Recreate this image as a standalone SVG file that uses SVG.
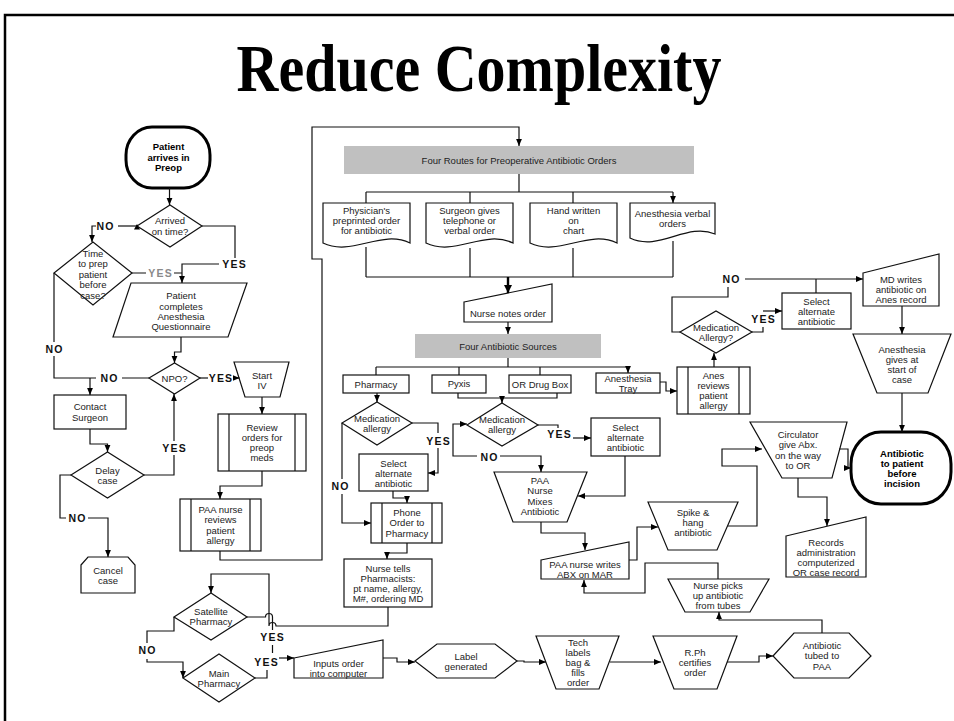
<svg xmlns="http://www.w3.org/2000/svg" width="954" height="721" viewBox="0 0 954 721">
<defs>
<style>
.s{fill:#fff;stroke:#111;stroke-width:1.2}
.g{fill:#c0c0c0;stroke:none}
.term{fill:#fff;stroke:#000;stroke-width:3}
.c{fill:none;stroke:#111;stroke-width:1.2}
.ca{fill:none;stroke:#111;stroke-width:1.2;marker-end:url(#a)}
.ck{fill:none;stroke:#000;stroke-width:2.4;marker-end:url(#b)}
.t{font-family:"Liberation Sans",Arial,sans-serif;font-size:9.5px;fill:#222;text-anchor:middle}
.tb{font-family:"Liberation Sans",Arial,sans-serif;font-size:9.5px;font-weight:bold;fill:#000;text-anchor:middle}
.l{font-family:"Liberation Sans",Arial,sans-serif;font-size:10.5px;font-weight:bold;fill:#111;text-anchor:middle;letter-spacing:1.2px}
.lg{fill:#8a8a8a}
.title{font-family:"Liberation Serif","Times New Roman",serif;font-size:58px;font-weight:bold;text-anchor:middle;fill:#000}
</style>
<marker id="a" markerWidth="8" markerHeight="8" refX="7" refY="3.5" orient="auto" markerUnits="userSpaceOnUse"><path d="M0,0.6 L7,3.5 L0,6.4 z" fill="#000"/></marker>
<marker id="b" markerWidth="10" markerHeight="10" refX="8" refY="4.5" orient="auto" markerUnits="userSpaceOnUse"><path d="M0,0.5 L8,4.5 L0,8.5 z" fill="#000"/></marker>
</defs>
<rect x="0" y="0" width="954" height="721" fill="#fff"/>
<rect x="5" y="15" width="1000" height="800" fill="none" stroke="#000" stroke-width="2.5"/>
<text class="title" transform="translate(479,91) scale(1,1.18)" x="0" y="0">Reduce Complexity</text>

<g id="n-start"><rect class="term" x="126" y="127" width="84" height="61" rx="26" ry="28"/><text class="tb"><tspan x="168.5" y="150">Patient</tspan><tspan x="168.5" y="160.5">arrives in</tspan><tspan x="168.5" y="171">Preop</tspan></text></g>
<g id="n-arrived"><polygon class="s" points="137,226 170,205 202,226 170,247"/><text class="t"><tspan x="170" y="223.5">Arrived</tspan><tspan x="170" y="234.5">on time?</tspan></text></g>
<g id="n-timeprep"><polygon class="s" points="54,273 93,242 132,273 93,305"/><text class="t"><tspan x="93" y="256.5">Time</tspan><tspan x="93" y="266.5">to prep</tspan><tspan x="93" y="277.5">patient</tspan><tspan x="93" y="287.5">before</tspan><tspan x="93" y="298.5">case?</tspan></text></g>
<g id="n-questionnaire"><polygon class="s" points="131,283 247,283 228,337 113,337"/><text class="t"><tspan x="181" y="298.5">Patient</tspan><tspan x="181" y="309.5">completes</tspan><tspan x="181" y="319.5">Anesthesia</tspan><tspan x="181" y="329.5">Questionnaire</tspan></text></g>
<g id="n-npo"><polygon class="s" points="149,378 174.5,363 200,378 174.5,394"/><text class="t"><tspan x="174.5" y="381.5">NPO?</tspan></text></g>
<g id="n-startiv"><polygon class="s" points="234,362 289,362 280,397 245,397"/><text class="t"><tspan x="262" y="378.5">Start</tspan><tspan x="262" y="388.5">IV</tspan></text></g>
<g id="n-review"><rect class="s" x="218" y="414" width="88" height="57"/><path class="c" d="M229,414 V471 M295,414 V471"/><text class="t"><tspan x="262" y="430.5">Review</tspan><tspan x="262" y="440.5">orders for</tspan><tspan x="262" y="450.5">preop</tspan><tspan x="262" y="460.5">meds</tspan></text></g>
<g id="n-contact"><rect class="s" x="54" y="395" width="72" height="34"/><text class="t"><tspan x="90" y="409.5">Contact</tspan><tspan x="90" y="420.5">Surgeon</tspan></text></g>
<g id="n-delay"><polygon class="s" points="71,475 107.5,452 144,475 107.5,498"/><text class="t"><tspan x="107.5" y="473.5">Delay</tspan><tspan x="107.5" y="483.5">case</tspan></text></g>
<g id="n-paareview"><rect class="s" x="180" y="499" width="81" height="52"/><path class="c" d="M191,499 V551 M250,499 V551"/><text class="t"><tspan x="220.5" y="512.5">PAA nurse</tspan><tspan x="220.5" y="522.5">reviews</tspan><tspan x="220.5" y="533.5">patient</tspan><tspan x="220.5" y="543.5">allergy</tspan></text></g>
<g id="n-cancel"><polygon class="s" points="81,565 88,557 128,557 135,565 135,593 81,593"/><text class="t"><tspan x="108" y="573.5">Cancel</tspan><tspan x="108" y="583.5">case</tspan></text></g>

<g id="n-fourroutes"><rect class="g" x="344" y="146" width="350" height="28"/><text class="t" x="519" y="163.5">Four Routes for Preoperative Antibiotic Orders</text></g>
<g id="n-doc1"><path class="s" d="M323,203 H410 V243 C381,229 352,257 323,243 Z"/><text class="t"><tspan x="366.5" y="213.5">Physician's</tspan><tspan x="366.5" y="223.5">preprinted order</tspan><tspan x="366.5" y="233.5">for antibiotic</tspan></text></g>
<g id="n-doc2"><path class="s" d="M426,203 H513 V243 C484,229 455,257 426,243 Z"/><text class="t"><tspan x="469.5" y="213.5">Surgeon gives</tspan><tspan x="469.5" y="223.5">telephone or</tspan><tspan x="469.5" y="233.5">verbal order</tspan></text></g>
<g id="n-doc3"><path class="s" d="M530,203 H617 V243 C588,229 559,257 530,243 Z"/><text class="t"><tspan x="573.5" y="213.5">Hand written</tspan><tspan x="573.5" y="223.5">on</tspan><tspan x="573.5" y="233.5">chart</tspan></text></g>
<g id="n-doc4"><path class="s" d="M630,203 H715 V234 C687,222 659,252 630,238 Z"/><text class="t"><tspan x="672.5" y="216.5">Anesthesia verbal</tspan><tspan x="672.5" y="226.5">orders</tspan></text></g>
<g id="n-nursenotes"><polygon class="s" points="464,302 552,284 552,322 464,322"/><text class="t" x="508" y="316.5">Nurse notes order</text></g>
<g id="n-foursources"><rect class="g" x="415" y="334" width="186" height="24"/><text class="t" x="508" y="349.5">Four Antibiotic Sources</text></g>
<g id="n-pharmacy"><rect class="s" x="343" y="375" width="66" height="18"/><text class="t" x="376" y="387.5">Pharmacy</text></g>
<g id="n-pyxis"><rect class="s" x="432" y="375" width="54" height="18"/><text class="t" x="459" y="386.5">Pyxis</text></g>
<g id="n-ordrug"><rect class="s" x="509" y="375" width="62" height="18"/><text class="t" x="540" y="387.5">OR Drug Box</text></g>
<g id="n-anestray"><rect class="s" x="596" y="373" width="64" height="20"/><text class="t"><tspan x="628" y="381.5">Anesthesia</tspan><tspan x="628" y="391.5">Tray</tspan></text></g>
<g id="n-medleft"><polygon class="s" points="342,423 377,402 412,423 377,445"/><text class="t"><tspan x="377" y="421.5">Medication</tspan><tspan x="377" y="431.5">allergy</tspan></text></g>
<g id="n-selleft"><rect class="s" x="359" y="454" width="69" height="37"/><text class="t"><tspan x="393.5" y="466.5">Select</tspan><tspan x="393.5" y="476.5">alternate</tspan><tspan x="393.5" y="486.5">antibiotic</tspan></text></g>
<g id="n-phone"><rect class="s" x="371" y="503" width="71" height="40"/><path class="c" d="M382,503 V543 M432,503 V543"/><text class="t"><tspan x="407" y="515.5">Phone</tspan><tspan x="407" y="525.5">Order to</tspan><tspan x="407" y="536.5">Pharmacy</tspan></text></g>
<g id="n-nursetells"><rect class="s" x="344" y="559" width="88" height="48"/><text class="t"><tspan x="388" y="571.5">Nurse tells</tspan><tspan x="388" y="581.5">Pharmacists:</tspan><tspan x="388" y="591.5">pt name, allergy,</tspan><tspan x="388" y="601.5">M#, ordering MD</tspan></text></g>
<g id="n-medmid"><polygon class="s" points="467,425 502,403 538,425 502,446"/><text class="t"><tspan x="502" y="422.5">Medication</tspan><tspan x="502" y="432.5">allergy</tspan></text></g>
<g id="n-selmid"><rect class="s" x="591" y="418" width="69" height="38"/><text class="t"><tspan x="625.5" y="430.5">Select</tspan><tspan x="625.5" y="440.5">alternate</tspan><tspan x="625.5" y="450.5">antibiotic</tspan></text></g>
<g id="n-mixes"><polygon class="s" points="494,472 587,472 567,522 513,522"/><text class="t"><tspan x="540" y="483.5">PAA</tspan><tspan x="540" y="494">Nurse</tspan><tspan x="540" y="504.5">Mixes</tspan><tspan x="540" y="514.5">Antibiotic</tspan></text></g>
<g id="n-paawrites"><polygon class="s" points="541,560 629,542 629,579 541,579"/><text class="t"><tspan x="585" y="567.5">PAA nurse writes</tspan><tspan x="585" y="577.5">ABX on MAR</tspan></text></g>
<g id="n-anesreview"><rect class="s" x="677" y="367" width="73" height="47"/><path class="c" d="M688,367 V414 M739,367 V414"/><text class="t"><tspan x="713.5" y="378.5">Anes</tspan><tspan x="713.5" y="388.5">reviews</tspan><tspan x="713.5" y="398.5">patient</tspan><tspan x="713.5" y="408.5">allergy</tspan></text></g>
<g id="n-medupper"><polygon class="s" points="680,332 716,311 752,332 716,353"/><text class="t"><tspan x="716" y="330.5">Medication</tspan><tspan x="716" y="340.5">Allergy?</tspan></text></g>
<g id="n-selupper"><rect class="s" x="782" y="293" width="69" height="36"/><text class="t"><tspan x="816.5" y="304.5">Select</tspan><tspan x="816.5" y="314.5">alternate</tspan><tspan x="816.5" y="324.5">antibiotic</tspan></text></g>
<g id="n-mdwrites"><polygon class="s" points="863,273 939,254 939,306 863,306"/><text class="t"><tspan x="901" y="282.5">MD writes</tspan><tspan x="901" y="292.5">antibiotic on</tspan><tspan x="901" y="302.5">Anes record</tspan></text></g>
<g id="n-anesgives"><polygon class="s" points="853,334 951,334 928,393 877,393"/><text class="t"><tspan x="902" y="352.5">Anesthesia</tspan><tspan x="902" y="362.5">gives at</tspan><tspan x="902" y="372.5">start of</tspan><tspan x="902" y="382.5">case</tspan></text></g>
<g id="n-end"><rect class="term" x="851" y="432" width="100" height="72" rx="30" ry="32"/><text class="tb"><tspan x="902" y="456.5">Antibiotic</tspan><tspan x="902" y="466.5">to patient</tspan><tspan x="902" y="476.5">before</tspan><tspan x="902" y="486.5">incision</tspan></text></g>
<g id="n-circulator"><polygon class="s" points="750,422 847,422 832,478 782,478"/><text class="t"><tspan x="798" y="437.5">Circulator</tspan><tspan x="798" y="447.5">give Abx.</tspan><tspan x="798" y="458.5">on the way</tspan><tspan x="798" y="468.5">to OR</tspan></text></g>
<g id="n-records"><polygon class="s" points="786,536 866,517 866,577 786,577"/><text class="t"><tspan x="826" y="545.5">Records</tspan><tspan x="826" y="555.5">administration</tspan><tspan x="826" y="565.5">computerized</tspan><tspan x="826" y="575.5">OR case record</tspan></text></g>
<g id="n-spike"><polygon class="s" points="648,502 738,502 717,550 668,550"/><text class="t"><tspan x="693" y="515.5">Spike &amp;</tspan><tspan x="693" y="525.5">hang</tspan><tspan x="693" y="535.5">antibiotic</tspan></text></g>
<g id="n-nursepicks"><polygon class="s" points="668,579 769,579 750,612 685,612"/><text class="t"><tspan x="718" y="588.5">Nurse picks</tspan><tspan x="718" y="598.5">up antibiotic</tspan><tspan x="718" y="609">from tubes</tspan></text></g>
<g id="n-tubed"><polygon class="s" points="773,656 794,633 849,633 871,656 849,678 794,678"/><text class="t"><tspan x="822" y="648.5">Antibiotic</tspan><tspan x="822" y="658.5">tubed to</tspan><tspan x="822" y="669.5">PAA</tspan></text></g>
<g id="n-rph"><polygon class="s" points="653,636 737,636 717,689 674,689"/><text class="t"><tspan x="695" y="655.5">R.Ph</tspan><tspan x="695" y="665.5">certifies</tspan><tspan x="695" y="675.5">order</tspan></text></g>
<g id="n-tech"><polygon class="s" points="536,636 619,636 599,689 556,689"/><text class="t"><tspan x="578" y="645.5">Tech</tspan><tspan x="578" y="655.5">labels</tspan><tspan x="578" y="665.5">bag &amp;</tspan><tspan x="578" y="675.5">fills</tspan><tspan x="578" y="685.5">order</tspan></text></g>
<g id="n-label"><polygon class="s" points="415,661 437,644 495,644 517,661 495,678 437,678"/><text class="t"><tspan x="466" y="659.5">Label</tspan><tspan x="466" y="669.5">generated</tspan></text></g>
<g id="n-inputs"><polygon class="s" points="294,658 383,640 383,678 294,678"/><text class="t"><tspan x="338.5" y="666.5">Inputs order</tspan><tspan x="338.5" y="676.5">into computer</tspan></text></g>
<g id="n-satellite"><polygon class="s" points="174,617 211,593 247,617 211,640"/><text class="t"><tspan x="211" y="614.5">Satellite</tspan><tspan x="211" y="624.5">Pharmacy</tspan></text></g>
<g id="n-main"><polygon class="s" points="183,678 219,654 255,678 219,702"/><text class="t"><tspan x="219" y="676.5">Main</tspan><tspan x="219" y="686.5">Pharmacy</tspan></text></g>

<g id="connectors">
<path class="ca" d="M169.5,188 V205"/>
<path class="c" d="M137,226 H118"/>
<path d="M137,224 L134,229.5 L140,229.5 z" fill="#000"/>
<path class="ca" d="M96,226 H92 V242"/>
<path class="c" d="M202,226 H235 V258"/>
<path class="ca" d="M219,264 H182 V283"/>
<path class="c" d="M132,273 H146 M174,273 H182"/>
<path class="c" d="M54,273 V342 M54,356 V378 H90"/>
<path class="ca" d="M90,378 V395"/>
<path class="c" d="M149,378 H122 M96,378 H90"/>
<path class="ca" d="M181,337 V352 H174.5 V363"/>
<path class="c" d="M200,378 H208"/>
<path class="ca" d="M233,378 H239.5"/>
<path class="ca" d="M262,397 V414"/>
<path class="ca" d="M262,471 V486 H220 V499"/>
<path class="ca" d="M220,551 V560 H322 V259 H312 V127 H519 V146"/>
<path class="ca" d="M90,429 V444 H107.5 V452"/>
<path class="c" d="M144,475 H174 V455"/>
<path class="ca" d="M174,441 V394"/>
<path class="c" d="M71,475 H60 V518 H66"/>
<path class="ca" d="M88,518 H108 V557"/>
<path class="c" d="M519,174 V192 M366,192 H673"/>
<path class="ca" d="M366,192 V203 M470,192 V203 M573,192 V203 M673,192 V203"/>
<path class="c" d="M366,247 V277 M470,248 V277 M573,248 V277 M673,241 V277 M366,277 H673"/>
<path class="ck" d="M508,277 V293"/>
<path class="ca" d="M508,322 V334"/>
<path class="c" d="M508,358 V367 M376,367 H628"/>
<path class="ca" d="M376,367 V375 M459,367 V375 M540,367 V375 M628,367 V373"/>
<path class="ca" d="M377,393 V402"/>
<path class="c" d="M342,423 V479"/>
<path class="ca" d="M342,494 V523 H371"/>
<path class="c" d="M412,423 H438 V433"/>
<path class="ca" d="M438,448 V473 H428"/>
<path class="ca" d="M393,491 V498 H407 V503"/>
<path class="ca" d="M407,543 V553 H387 V559"/>
<path class="c" d="M458,393 V398 H557 V393"/>
<path class="ca" d="M502,398 V403"/>
<path class="ca" d="M477,456 H453 V424 H467"/>
<path class="ca" d="M500,456 H541 V472"/>
<path class="c" d="M538,425 H558 V428"/>
<path class="ca" d="M573,438 H591"/>
<path class="ca" d="M625,456 V496 H578"/>
<path class="ca" d="M541,522 V533 H585 V550"/>
<path class="ca" d="M660,382 H666 V391 H677"/>
<path class="ca" d="M714,367 V353"/>
<path class="c" d="M680,332 H672 V297 H728 V287"/>
<path class="ca" d="M745,279 H863"/>
<path class="c" d="M816,293 V279"/>
<path class="c" d="M752,332 H763 V327"/>
<path class="ca" d="M763,311 H782"/>
<path class="ca" d="M902,306 V334"/>
<path class="ca" d="M902,393 V432"/>
<path class="ca" d="M839,449 H848 V468 H851"/>
<path class="ca" d="M798,478 V497 H827 V526"/>
<path class="ca" d="M728,526 H757 V466 H722 V449 H762"/>
<path class="ca" d="M629,560 H637 V527 H658"/>
<path class="ca" d="M718,579 V563 H645 V593 H584 V580"/>
<path class="ca" d="M822,633 V620 H719 V612"/>
<path class="ca" d="M727,662 H759 V656 H773"/>
<path class="ca" d="M610,662 H661"/>
<path class="ca" d="M517,661 H524 V662 H546"/>
<path class="ca" d="M383,658 H397 V662 H415"/>
<path class="ca" d="M388,607 V626 H276 A3.5,3.5 0 0 0 269,626 V574 H211 V593"/>
<path class="c" d="M247,617 H265.5 A3.5,3.5 0 0 1 272.5,617 V630"/>
<path class="c" d="M272.5,645 V653"/>
<path class="c" d="M255,678 H267 V670"/>
<path class="ca" d="M279,658 H294"/>
<path class="c" d="M174,617 V631 H147 V643"/>
<path class="ca" d="M147,659 V662 H183 V678"/>

<text class="l" x="105.6" y="230">NO</text>
<text class="l" x="234.6" y="268">YES</text>
<text class="l lg" x="160.6" y="277">YES</text>
<text class="l" x="54.6" y="353">NO</text>
<text class="l" x="109.6" y="382">NO</text>
<text class="l" x="221" y="382">YES</text>
<text class="l" x="174.6" y="452">YES</text>
<text class="l" x="77.6" y="522">NO</text>
<text class="l" x="340.6" y="490">NO</text>
<text class="l" x="438.6" y="445">YES</text>
<text class="l" x="489.6" y="461">NO</text>
<text class="l" x="559.6" y="438">YES</text>
<text class="l" x="731.6" y="283">NO</text>
<text class="l" x="763.6" y="323">YES</text>
<text class="l" x="272.6" y="641">YES</text>
<text class="l" x="266.6" y="666">YES</text>
<text class="l" x="147.6" y="654">NO</text>
</g>
</svg>
